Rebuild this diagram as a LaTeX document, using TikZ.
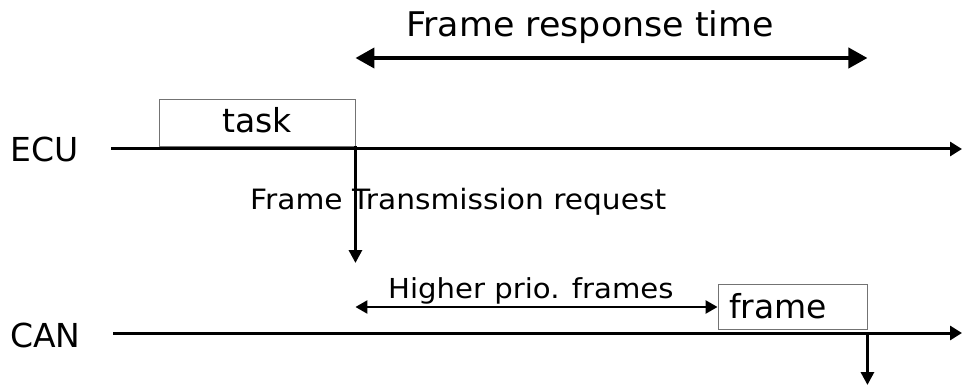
\documentclass[tikz,border=0pt]{standalone}
\usepackage{fontspec}
\setmainfont{DejaVu Sans}
\newfontfamily\widesans[FakeStretch=1.06]{DejaVu Sans}
\usetikzlibrary{arrows.meta}
\begin{document}
\begin{tikzpicture}[x=1pt,y=-1pt,
  big/.style={inner sep=0pt, font=\fontsize{34}{38}\selectfont\addfontfeatures{FakeStretch=1.025}},
  lbl/.style={inner sep=0pt, font=\fontsize{33}{36}\selectfont},
  small/.style={inner sep=0pt, font=\widesans\fontsize{28}{32}\selectfont},
  box/.style={draw=black!55, line width=0.9pt, inner ysep=0pt, font=\fontsize{33}{36}\selectfont},
  axisline/.style={line width=3pt, -{Triangle[length=12pt,width=14pt]}},
  reqarrow/.style={line width=3pt, -{Triangle[length=13pt,width=13pt]}},
  rtarrow/.style={line width=4pt, {Triangle[length=19pt,width=20pt]}-{Triangle[length=19pt,width=20pt]}},
  prioarrow/.style={line width=2.5pt, {Triangle[length=12pt,width=13pt]}-{Triangle[length=12pt,width=13pt]}}
]
\useasboundingbox (0,0) rectangle (962,385);

% texts
\node[big, anchor=base] (title) at (590,37) {Frame response time};
\node[lbl, anchor=base west] (ecu) at (10,162) {ECU};
\node[lbl, anchor=base west] (can) at (10,347) {CAN};
\node[small, anchor=base west] (req) at (250,210) {Frame Transmission request};
\node[small, anchor=base west, font=\widesans\fontsize{27.5}{31}\selectfont] (prio) at (388,298) {Higher prio. frames};

% boxes
\node[box, inner xsep=0pt, minimum width=196pt, minimum height=47pt,
      text height=21pt, text depth=0pt] (task) at (257,122.5) {task};
\node[box, inner xsep=11pt, text width=127pt, align=left, minimum height=45pt,
      text height=23pt, text depth=0pt] (frame) at (792.5,306.5) {frame};

% coordinates
\coordinate (ecuS) at (111,149);
\coordinate (ecuE) at (962,149);
\coordinate (canS) at (113,333);
\coordinate (canE) at (962,333);
\coordinate (reqEnd) at (task.south east |- 0,263);
\coordinate (rtL) at (task.east |- 0,58);
\coordinate (rtR) at (frame.east |- 0,58);
\coordinate (prL) at (task.east |- 0,307);
\coordinate (outTop) at (frame.east |- 0,333);
\coordinate (outEnd) at (frame.east |- 0,385);

% timelines
\draw[axisline] (ecuS) -- (ecuE);
\draw[axisline] (canS) -- (canE);

% arrows
\draw[rtarrow] (rtL) -- (rtR);
\draw[reqarrow] (task.south east) -- (reqEnd);
\draw[prioarrow] (prL) -- (frame.west |- prL);
\draw[reqarrow] (outTop) -- (outEnd);
\end{tikzpicture}
\end{document}
